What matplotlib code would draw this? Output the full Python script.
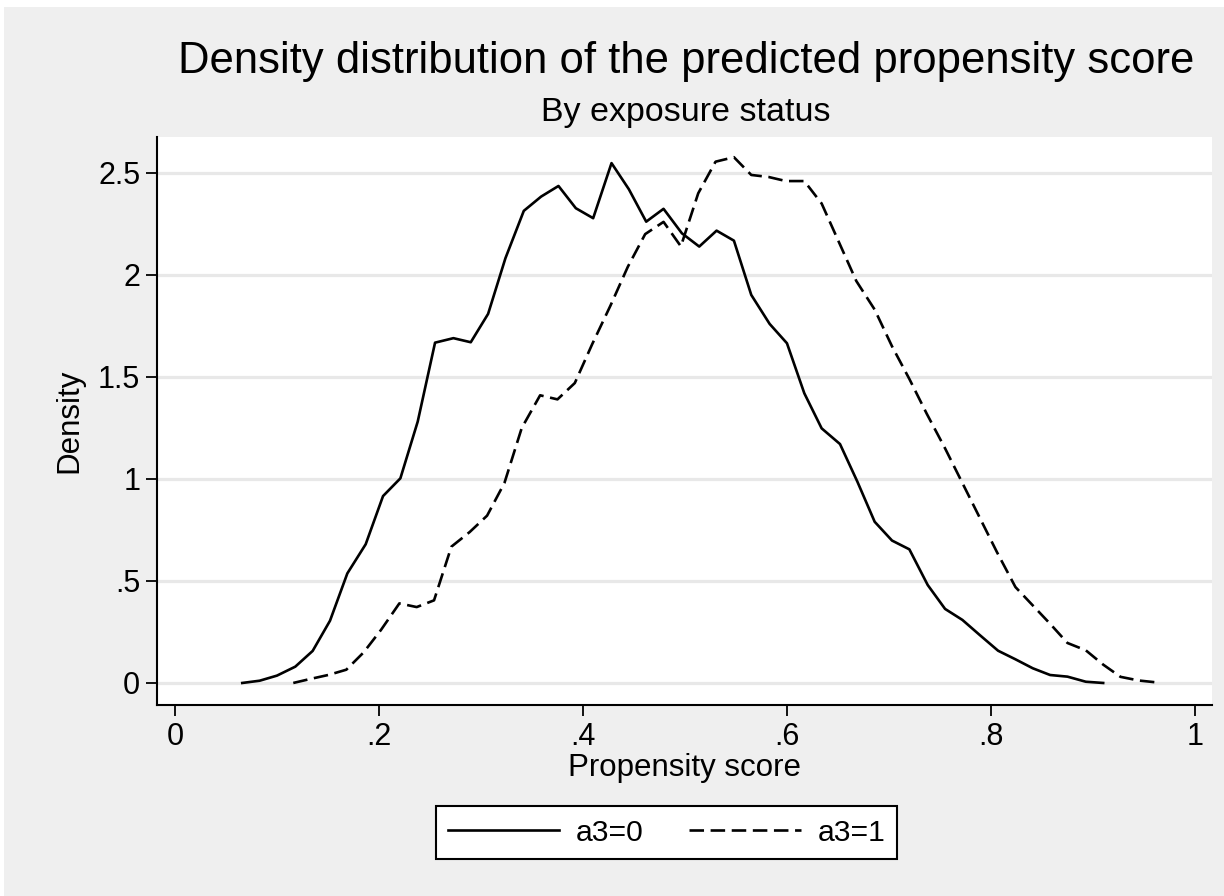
import matplotlib
matplotlib.use('Agg')
import matplotlib.pyplot as plt
from matplotlib.patches import Rectangle

plt.rcParams['font.family'] = ['Liberation Sans', 'DejaVu Sans']

# kdensity grid, a3=0 (solid)
x_a0 = [0.066, 0.083, 0.100, 0.118, 0.135, 0.152, 0.169, 0.187, 0.204, 0.221,
        0.238, 0.255, 0.273, 0.290, 0.307, 0.324, 0.342, 0.359, 0.376, 0.393,
        0.410, 0.428, 0.445, 0.462, 0.479, 0.497, 0.514, 0.531, 0.548, 0.565,
        0.583, 0.600, 0.617, 0.634, 0.652, 0.669, 0.686, 0.703, 0.720, 0.738,
        0.755, 0.772, 0.789, 0.807, 0.824, 0.841, 0.858, 0.875, 0.893, 0.910]
y_a0 = [0.000, 0.011, 0.036, 0.080, 0.157, 0.305, 0.537, 0.680, 0.916, 1.003,
        1.281, 1.668, 1.690, 1.670, 1.809, 2.082, 2.314, 2.384, 2.436, 2.327,
        2.278, 2.548, 2.420, 2.261, 2.324, 2.204, 2.139, 2.217, 2.168, 1.902,
        1.760, 1.665, 1.420, 1.248, 1.171, 0.987, 0.790, 0.698, 0.655, 0.480,
        0.363, 0.309, 0.235, 0.158, 0.116, 0.072, 0.039, 0.031, 0.006, 0.000]

# kdensity grid, a3=1 (dashed)
x_a1 = [0.116, 0.133, 0.151, 0.168, 0.185, 0.202, 0.220, 0.237, 0.254, 0.271,
        0.289, 0.306, 0.323, 0.340, 0.358, 0.375, 0.392, 0.409, 0.427, 0.444,
        0.461, 0.479, 0.496, 0.513, 0.530, 0.548, 0.565, 0.582, 0.599, 0.617,
        0.634, 0.651, 0.668, 0.686, 0.703, 0.720, 0.737, 0.755, 0.772, 0.789,
        0.806, 0.824, 0.841, 0.858, 0.875, 0.893, 0.910, 0.927, 0.945, 0.962]
y_a1 = [0.000, 0.020, 0.040, 0.065, 0.150, 0.260, 0.390, 0.372, 0.405, 0.668,
        0.740, 0.820, 0.980, 1.250, 1.410, 1.390, 1.470, 1.660, 1.850, 2.040,
        2.200, 2.260, 2.140, 2.400, 2.555, 2.577, 2.490, 2.480, 2.460, 2.460,
        2.350, 2.160, 1.970, 1.830, 1.650, 1.490, 1.320, 1.150, 0.980, 0.810,
        0.640, 0.470, 0.380, 0.290, 0.196, 0.160, 0.090, 0.030, 0.012, 0.003]

xticks = [0, 0.2, 0.4, 0.6, 0.8, 1]
xticklabels = ['0', '.2', '.4', '.6', '.8', '1']
yticks = [0, 0.5, 1, 1.5, 2, 2.5]
yticklabels = ['0', '.5', '1', '1.5', '2', '2.5']

W, H = 1224, 896
fig = plt.figure(figsize=(W / 100, H / 100), dpi=100, facecolor='#efefef')

# white strip of the page around the screenshot
fig.patches.append(Rectangle((0, 1 - 7 / H), 1, 7 / H, transform=fig.transFigure,
                             facecolor='white', edgecolor='none', zorder=0))
fig.patches.append(Rectangle((0, 0), 4 / W, 1, transform=fig.transFigure,
                             facecolor='white', edgecolor='none', zorder=0))

ax = fig.add_axes([157 / W, 191 / H, (1212 - 157) / W, (759 - 191) / H])
ax.set_facecolor('white')

for yt in yticks:
    ax.axhline(yt, color='#e8e8e8', lw=2.3, zorder=1)

ax.plot(x_a0, y_a0, color='black', lw=1.9, label='a3=0', zorder=3)
ax.plot(x_a1, y_a1, color='black', lw=1.9, dashes=(5.5, 2.5), label='a3=1', zorder=3)

ax.set_xlim(-0.0176, 1.0167)
ax.set_ylim(-0.108, 2.676)

ax.set_xticks(xticks)
ax.set_xticklabels(xticklabels)
ax.set_yticks(yticks)
ax.set_yticklabels(yticklabels)
ax.tick_params(axis='both', direction='out', length=8, width=1.3, labelsize=22,
               pad=4, colors='black')

for s in ['top', 'right']:
    ax.spines[s].set_visible(False)
for s in ['left', 'bottom']:
    ax.spines[s].set_linewidth(1.5)

ax.set_xlabel('Propensity score', fontsize=22.5, labelpad=1)
ax.set_ylabel('Density', fontsize=22.5, labelpad=10)

fig.text(686 / W, 1 - 62 / H, 'Density distribution of the predicted propensity score',
         ha='center', va='center', fontsize=31.4)
fig.text(686 / W, 1 - 112 / H, 'By exposure status', ha='center', va='center',
         fontsize=24.5)

leg = fig.legend(loc='center', bbox_to_anchor=(666.5 / W, 1 - 832.5 / H), ncol=2,
                 fontsize=21.7, frameon=True, fancybox=False, framealpha=1,
                 edgecolor='black', handlelength=3.7, columnspacing=1.5,
                 handletextpad=0.56, borderpad=0.4, borderaxespad=0)
leg.get_frame().set_linewidth(1.5)

fig.savefig('out.png', dpi=100, facecolor=fig.get_facecolor())
